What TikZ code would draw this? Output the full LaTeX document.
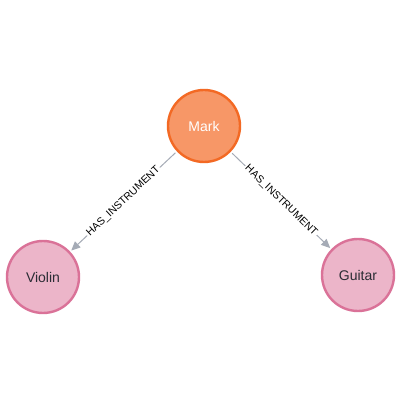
\documentclass[tikz,border=0pt]{standalone}
\usepackage{fontspec}
\setmainfont{Liberation Sans}
\usetikzlibrary{arrows.meta}
\definecolor{markfill}{HTML}{F79767}
\definecolor{markdraw}{HTML}{F36924}
\definecolor{instfill}{HTML}{ECB5C9}
\definecolor{instdraw}{HTML}{DA7298}
\definecolor{edgegray}{HTML}{A5ABB6}
\definecolor{txt}{HTML}{2A2C34}
\tikzset{
  person/.style={circle, minimum size=72pt, inner sep=0pt, fill=markfill, draw=markdraw, line width=2.4pt, text=white, font=\fontsize{14}{16}\selectfont},
  instr/.style={circle, minimum size=72pt, inner sep=0pt, fill=instfill, draw=instdraw, line width=2.4pt, text=txt, font=\fontsize{14}{16}\selectfont},
  rel/.style={draw=edgegray, line width=1pt, -{Triangle[length=9pt,width=8pt,fill=edgegray]}, shorten <=2pt, shorten >=1.5pt},
  rellabel/.style={sloped, fill=white, inner sep=1.5pt, text=black, font=\fontsize{10.5}{12}\selectfont}
}
\begin{document}
\begin{tikzpicture}[x=1pt,y=1pt]
  \useasboundingbox[fill=white] (0,0) rectangle (402,402);
  \node[person] (mark) at (204,276) {Mark};
  \node[instr] (violin) at (43,125) {Violin};
  \node[instr] (guitar) at (358,127) {Guitar};
  \draw[rel] (mark) -- node[rellabel] (l1) {HAS\_INSTRUMENT} (violin);
  \draw[rel] (mark) -- node[rellabel] (l2) {HAS\_INSTRUMENT} (guitar);
\end{tikzpicture}
\end{document}
